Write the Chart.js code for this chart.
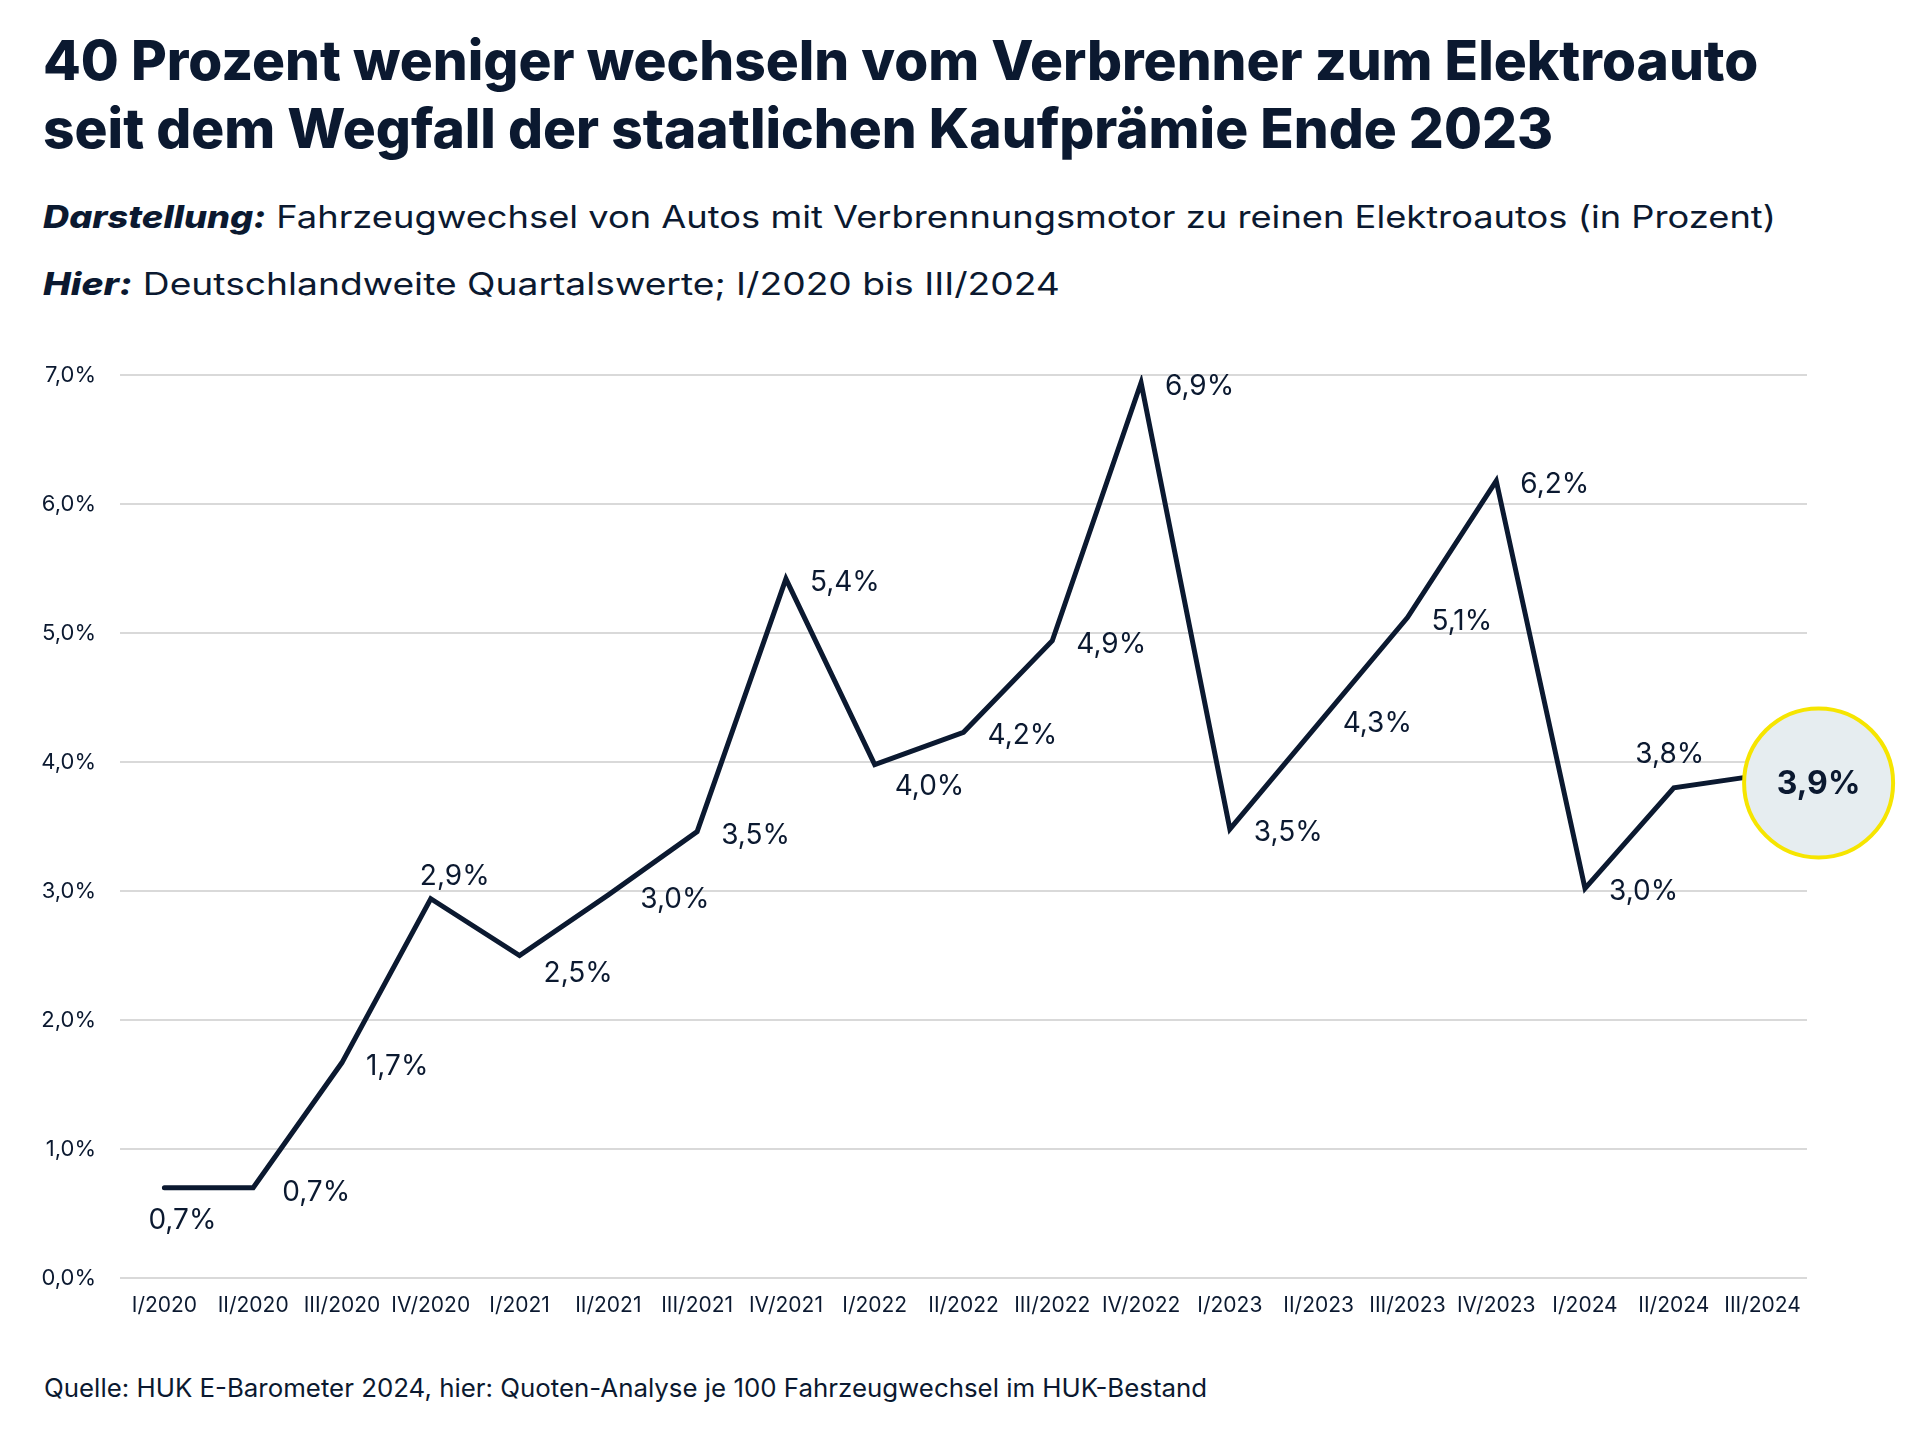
<!DOCTYPE html>
<html>
<head>
<meta charset="utf-8">
<script src="https://cdn.jsdelivr.net/npm/chart.js@4/dist/chart.umd.min.js"></script>
<style>
html,body{margin:0;padding:0;background:#ffffff;}
body{width:1920px;height:1440px;position:relative;overflow:hidden;font-family:Inter,"Noto Sans",sans-serif;color:#0b1930;}
#title{position:absolute;left:43px;top:26px;margin:0;font-size:55px;font-weight:800;line-height:68px;letter-spacing:0;white-space:nowrap;}
.sub{position:absolute;left:43px;font-size:31px;white-space:nowrap;line-height:normal;transform-origin:0 50%;}
.sub b{font-style:italic;font-weight:800;}
#s1{top:198px;transform:scaleX(1.17);}
#s2{top:265px;transform:scaleX(1.2);}
#foot{position:absolute;left:44px;top:1373px;font-size:25px;white-space:nowrap;transform-origin:0 50%;transform:scaleX(1.034);}
#wrap{position:absolute;left:0;top:330px;width:1920px;height:1010px;}
</style>
</head>
<body>
<h1 id="title">40 Prozent weniger wechseln vom Verbrenner zum Elektroauto<br>seit dem Wegfall der staatlichen Kaufprämie Ende 2023</h1>
<div class="sub" id="s1"><b>Darstellung:</b> Fahrzeugwechsel von Autos mit Verbrennungsmotor zu reinen Elektroautos (in Prozent)</div>
<div class="sub" id="s2"><b>Hier:</b> Deutschlandweite Quartalswerte; I/2020 bis III/2024</div>
<div id="wrap"><canvas id="c" width="1920" height="1010"></canvas></div>
<div id="foot">Quelle: HUK E-Barometer 2024, hier: Quoten-Analyse je 100 Fahrzeugwechsel im HUK-Bestand</div>
<script>
// ---- data ----
const categories = ['I/2020','II/2020','III/2020','IV/2020','I/2021','II/2021','III/2021','IV/2021','I/2022','II/2022','III/2022','IV/2022','I/2023','II/2023','III/2023','IV/2023','I/2024','II/2024','III/2024'];
const shareValues = [0.70, 0.70, 1.67, 2.94, 2.50, 2.97, 3.46, 5.42, 3.98, 4.23, 4.94, 6.94, 3.48, 4.30, 5.12, 6.18, 3.02, 3.80, 3.90];
const valueLabels = ['0,7%','0,7%','1,7%','2,9%','2,5%','3,0%','3,5%','5,4%','4,0%','4,2%','4,9%','6,9%','3,5%','4,3%','5,1%','6,2%','3,0%','3,8%','3,9%'];
const yTickLabels = ['0,0%','1,0%','2,0%','3,0%','4,0%','5,0%','6,0%','7,0%'];

const NAVY = '#0b1930';

const pointLabelPlugin = {
  id: 'pointLabels',
  afterDatasetsDraw(chart, args, opts) {
    const ctx = chart.ctx;
    const meta = chart.getDatasetMeta(0);
    const last = meta.data.length - 1;
    ctx.save();
    meta.data.forEach((pt, i) => {
      if (i === last) return;
      const p = Object.assign({}, opts.defaultPlace, opts.place[i] || {});
      ctx.font = opts.font;
      ctx.fillStyle = NAVY;
      ctx.textAlign = p.align;
      ctx.textBaseline = 'alphabetic';
      ctx.fillText(valueLabels[i], pt.x + p.dx, pt.y + p.dy + opts.capHalf);
    });
    // highlighted last value
    const lp = meta.data[last];
    const h = opts.highlight;
    const cx = lp.x + h.dx, cy = lp.y + h.dy;
    ctx.beginPath();
    ctx.arc(cx, cy, h.r, 0, Math.PI * 2);
    ctx.fillStyle = h.fill;
    ctx.fill();
    ctx.lineWidth = h.lineWidth;
    ctx.strokeStyle = h.stroke;
    ctx.stroke();
    ctx.font = h.font;
    ctx.fillStyle = NAVY;
    ctx.textAlign = 'center';
    ctx.textBaseline = 'alphabetic';
    ctx.fillText(valueLabels[last], cx, cy + h.capHalf);
    ctx.restore();
  }
};

new Chart(document.getElementById('c'), {
  type: 'line',
  data: {
    labels: categories,
    datasets: [{
      data: shareValues,
      borderColor: NAVY,
      borderWidth: 5,
      borderJoinStyle: 'miter',
      borderCapStyle: 'round',
      tension: 0,
      pointRadius: 0,
      pointHoverRadius: 0,
      fill: false
    }]
  },
  options: {
    responsive: false,
    animation: false,
    events: [],
    layout: { padding: { top: 45, right: 113, left: 0, bottom: 0 } },
    plugins: {
      legend: { display: false },
      tooltip: { enabled: false },
      pointLabels: {
        font: '400 28px Inter',
        capHalf: 10,
        defaultPlace: { dx: 24, dy: 2, align: 'left' },
        place: {
          0: { dx: 18, dy: 31, align: 'center' },
          1: { dx: 29, dy: 3 },
          3: { dx: 24, dy: -24, align: 'center' },
          4: { dx: 24, dy: 16 },
          5: { dx: 32, dy: 3 },
          8: { dx: 20, dy: 20 },
          13: { dx: 24, dy: -1 },
          17: { dx: -4, dy: -35, align: 'center' }
        },
        highlight: { dx: 56, dy: 8, r: 74.5, fill: '#e6edf0', stroke: '#f6e500', lineWidth: 4, font: '700 32px Inter', capHalf: 11.5 }
      }
    },
    scales: {
      x: {
        offset: true,
        grid: { display: false, drawTicks: false },
        border: { display: false },
        ticks: { color: NAVY, font: { family: 'Inter', size: 21 }, padding: 15, maxRotation: 0, autoSkip: false },
        afterFit(scale) { scale.height = 62; }
      },
      y: {
        min: 0,
        max: 7,
        grid: { color: '#d9d9d9', lineWidth: 2, drawTicks: false },
        border: { display: false },
        ticks: {
          stepSize: 1,
          color: NAVY,
          font: { family: 'Inter', size: 22 },
          padding: 24,
          callback: (v) => yTickLabels[Math.round(v)]
        },
        afterFit(scale) { scale.width = 120; }
      }
    }
  },
  plugins: [pointLabelPlugin]
});
</script>
</body>
</html>
